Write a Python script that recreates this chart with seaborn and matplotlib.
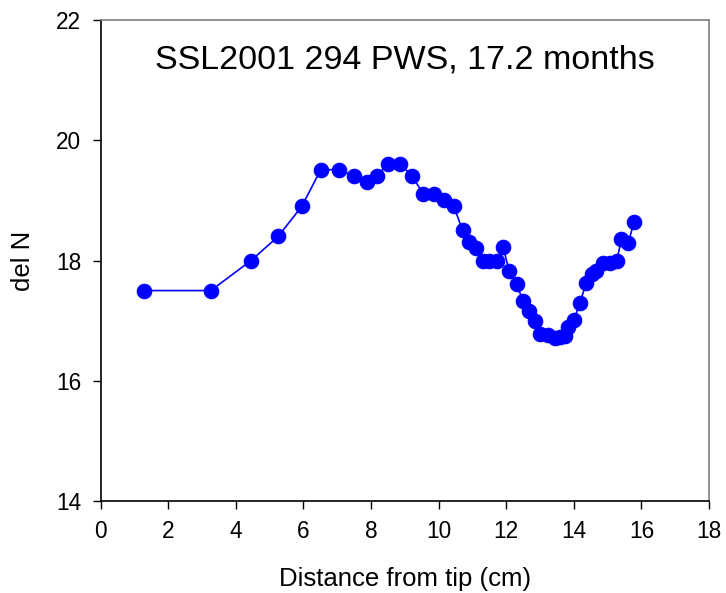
import matplotlib
matplotlib.use("Agg")
import matplotlib.pyplot as plt
import seaborn as sns
import pandas as pd

distance_cm = [1.28, 3.26, 4.45, 5.25, 5.95, 6.51, 7.05, 7.49, 7.87, 8.17,
               8.49, 8.86, 9.22, 9.54, 9.87, 10.16, 10.45, 10.71, 10.91, 11.12,
               11.30, 11.50, 11.72, 11.91, 12.09, 12.31, 12.49, 12.66, 12.86, 13.00,
               13.24, 13.44, 13.59, 13.74, 13.83, 14.00, 14.18, 14.36, 14.53, 14.67,
               14.87, 15.07, 15.27, 15.41, 15.61, 15.78]
del_n = [17.50, 17.50, 18.00, 18.40, 18.90, 19.51, 19.51, 19.40, 19.30, 19.40,
         19.61, 19.61, 19.40, 19.11, 19.11, 19.01, 18.90, 18.50, 18.30, 18.20,
         18.00, 18.00, 18.00, 18.22, 17.82, 17.61, 17.33, 17.16, 16.99, 16.78,
         16.76, 16.71, 16.72, 16.74, 16.90, 17.01, 17.29, 17.62, 17.77, 17.83,
         17.96, 17.96, 18.00, 18.35, 18.29, 18.64]

x_ticks = [0, 2, 4, 6, 8, 10, 12, 14, 16, 18]
y_ticks = [14, 16, 18, 20, 22]
title = "SSL2001 294 PWS, 17.2 months"

df = pd.DataFrame({"dist": distance_cm, "deln": del_n})

sns.set_style("white")
plt.rcParams['font.family'] = ['Liberation Sans', 'DejaVu Sans']

fig = plt.figure(figsize=(7.26, 5.93), dpi=100)
ax = fig.add_axes([0.1387, 0.1551, 0.9766 - 0.1387, 0.9663 - 0.1551])

sns.lineplot(data=df, x="dist", y="deln", ax=ax, color="#0000ff", linewidth=1.2,
             marker="o", markersize=10.5, markeredgecolor="#0000ff",
             markerfacecolor="#0000ff", sort=False, estimator=None)

ax.set_xlim(0, 18)
ax.set_ylim(14, 22)
ax.set_xticks(x_ticks)
ax.set_yticks(y_ticks)
ax.set_xticklabels([str(t) for t in x_ticks])
ax.set_yticklabels([str(t) for t in y_ticks])
ax.tick_params(axis="both", direction="out", length=6, width=1, colors="black",
               labelsize=16.3, pad=8, bottom=True, left=True)
ax.set_xlabel("Distance from tip (cm)", fontsize=18.5, labelpad=17, color="black")
ax.set_ylabel("del N", fontsize=18.5, labelpad=15, color="black")

for side in ["left", "bottom"]:
    ax.spines[side].set_color("black")
    ax.spines[side].set_linewidth(1.2)
for side in ["top", "right"]:
    ax.spines[side].set_color("#808080")
    ax.spines[side].set_linewidth(1.2)

ax.text(0.5, 0.949, title, transform=ax.transAxes, ha="center", va="top",
        fontsize=24.5, color="black")

fig.savefig("out.png", dpi=100)
